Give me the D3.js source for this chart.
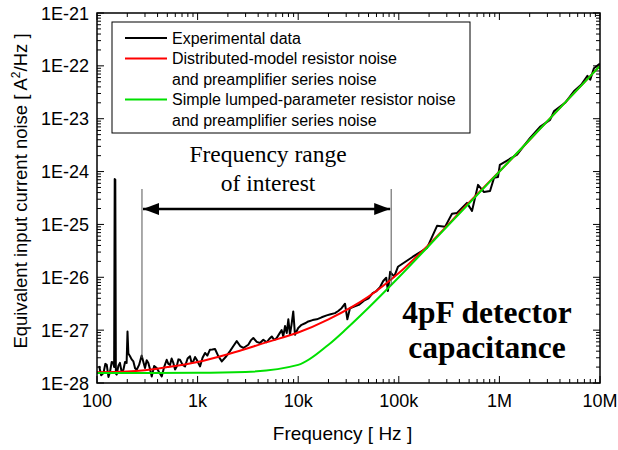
<!DOCTYPE html>
<html>
<head>
<meta charset="utf-8">
<script src="https://cdn.jsdelivr.net/npm/d3@7"></script>
<style>
  body { margin: 0; background: #fff; }
  svg text { font-family: Arial, "Liberation Sans", sans-serif; }
</style>
</head>
<body>
<script>
// experimental noise spectrum (Hz, A^2/Hz)
const expFreq = [105, 110, 116, 121, 125, 130, 135, 140, 145, 148, 150, 152, 154, 157, 163, 169, 176, 183, 190, 197, 201, 205, 213, 221, 230, 239, 248, 262, 278, 289, 300, 312, 324, 337, 350, 370, 392, 415, 440, 465, 493, 512, 532, 552, 574, 597, 620, 644, 668, 710, 750, 795, 840, 873, 906, 943, 980, 1057, 1120, 1186, 1250, 1327, 1400, 1490, 1610, 1740, 1900, 2100, 2270, 2450, 2650, 2850, 3190, 3380, 3580, 3870, 4170, 4500, 4860, 5150, 5460, 5780, 6110, 6480, 6850, 7110, 7400, 7690, 7980, 8280, 8600, 8930, 9290, 10000, 10800, 11700, 12600, 13900, 15300, 17100, 19200, 21000, 23200, 25000, 27000, 29200, 30800, 32700, 36000, 40000, 45000, 50000, 55000, 60000, 65000, 70000, 75000, 78000, 82000, 90000, 98000, 138000, 191000, 240000, 288000, 338000, 379000, 476000, 534000, 613000, 703000, 807000, 884000, 968000, 1010000, 1330000, 1500000, 2010000, 2530000, 3190000, 3500000, 4500000, 5500000, 6500000, 7500000, 8000000, 8700000, 10000000];
const expNoise = [2.1e-28, 1.4e-28, 1.55e-28, 2.3e-28, 2.2e-28, 1.3e-28, 1.66e-28, 2.5e-28, 2.4e-28, 2.0e-28, 7.2e-25, 7.0e-25, 1.5e-28, 1.44e-28, 2.1e-28, 2.4e-28, 1.6e-28, 1.78e-28, 2.5e-28, 2.4e-28, 9.4e-28, 3.6e-28, 3.2e-28, 2.8e-28, 2.56e-28, 1.9e-28, 1.78e-28, 2.2e-28, 3.3e-28, 2.5e-28, 1.92e-28, 2.7e-28, 2.4e-28, 1.8e-28, 1.33e-28, 2.1e-28, 1.92e-28, 1.6e-28, 1.33e-28, 2.0e-28, 2.75e-28, 2.3e-28, 2.2e-28, 2.9e-28, 2.4e-28, 1.8e-28, 2.06e-28, 2.8e-28, 2.75e-28, 2.2e-28, 2.06e-28, 2.9e-28, 3.2e-28, 2.4e-28, 2.56e-28, 3.1e-28, 2.75e-28, 2.06e-28, 3.0e-28, 3.7e-28, 3.3e-28, 4.27e-28, 4.3e-28, 4.4e-28, 3.2e-28, 2.56e-28, 3.1e-28, 4.0e-28, 5.0e-28, 6.2e-28, 5.0e-28, 4.6e-28, 5.3e-28, 6.4e-28, 7.1e-28, 6.0e-28, 5.7e-28, 6.6e-28, 5.9e-28, 6.8e-28, 7.6e-28, 6.5e-28, 7.1e-28, 8.5e-28, 1.0e-27, 7.6e-28, 1.2e-27, 8.8e-28, 1.6e-27, 8.2e-28, 1.3e-27, 2.26e-27, 8.2e-28, 1.1e-27, 1.26e-27, 1.35e-27, 1.46e-27, 1.55e-27, 1.6e-27, 1.75e-27, 1.9e-27, 2.0e-27, 2.1e-27, 2.3e-27, 2.6e-27, 3.16e-27, 1.6e-27, 2.6e-27, 2.8e-27, 3.0e-27, 3.6e-27, 4.0e-27, 5.0e-27, 5.5e-27, 6.5e-27, 8.5e-27, 9.8e-27, 5.5e-27, 1.27e-26, 1.03e-26, 1.58e-26, 2.45e-26, 3.6e-26, 9.4e-26, 9.0e-26, 1.59e-25, 1.65e-25, 2.56e-25, 1.8e-25, 5.6e-25, 4.1e-25, 4.3e-25, 7.6e-25, 7.9e-25, 1.34e-24, 1.83e-24, 2.1e-24, 4.3e-24, 7.0e-24, 9.5e-24, 1.4e-23, 2.0e-23, 3.3e-23, 4.4e-23, 6.5e-23, 5.5e-23, 9.0e-23, 1.1e-22];

// distributed-model resistor noise + preamp series noise
const distFreq = [100, 200, 300, 500, 1000, 2000, 5000, 10000, 20000, 50000, 100000, 200000, 500000, 1000000, 3000000, 10000000];
const distNoise = [1.6e-28, 1.65e-28, 1.75e-28, 2.0e-28, 2.5e-28, 3.5e-28, 6.0e-28, 9.0e-28, 1.6e-27, 4.3e-27, 1.2e-26, 4.2e-26, 2.6e-25, 1.0e-24, 9.0e-24, 1.0e-22];

// simple lumped-parameter resistor noise + preamp series noise
const lumpFreq = [100, 1000, 3000, 10000, 20000, 30000, 50000, 100000, 300000, 1000000, 3000000, 10000000];
const lumpNoise = [1.55e-28, 1.56e-28, 1.62e-28, 2.2e-28, 5.3e-28, 1.05e-27, 2.65e-27, 1.0e-26, 9.0e-26, 1.0e-24, 9.0e-24, 1.0e-22];

const xTickValues = [1e2, 1e3, 1e4, 1e5, 1e6, 1e7];
const xTickLabels = ["100", "1k", "10k", "100k", "1M", "10M"];
const yTickValues = [1e-21, 1e-22, 1e-23, 1e-24, 1e-25, 1e-26, 1e-27, 1e-28];
const yTickLabels = ["1E-21", "1E-22", "1E-23", "1E-24", "1E-25", "1E-26", "1E-27", "1E-28"];

const rangeLimits = [280, 84000];

const legendLabels = [
  ["Experimental data"],
  ["Distributed-model resistor noise", "and preamplifier series noise"],
  ["Simple lumped-parameter resistor noise", "and preamplifier series noise"]
];
const legendColors = ["#000000", "#ff0000", "#00e000"];

const W = 618, H = 450;
const pLeft = 97, pRight = 600, pTop = 13, pBottom = 383;

const svg = d3.select("body")
  .append("svg")
  .attr("width", W)
  .attr("height", H);

const x = d3.scaleLog().domain([1e2, 1e7]).range([pLeft, pRight]);
const y = d3.scaleLog().domain([1e-28, 1e-21]).range([pBottom, pTop]);

// ticks, inside, all four sides
const xMinor = x.ticks().filter(v => !xTickValues.includes(v));
const yMinor = y.ticks().filter(v => !yTickValues.some(t => Math.abs(t - v) / t < 1e-6));

const ticks = svg.append("g").attr("stroke", "#000").attr("stroke-width", 1);
xMinor.forEach(v => {
  ticks.append("line").attr("x1", x(v)).attr("x2", x(v)).attr("y1", pBottom).attr("y2", pBottom - 4);
  ticks.append("line").attr("x1", x(v)).attr("x2", x(v)).attr("y1", pTop).attr("y2", pTop + 4);
});
xTickValues.forEach(v => {
  ticks.append("line").attr("x1", x(v)).attr("x2", x(v)).attr("y1", pBottom).attr("y2", pBottom - 7);
  ticks.append("line").attr("x1", x(v)).attr("x2", x(v)).attr("y1", pTop).attr("y2", pTop + 7);
});
yMinor.forEach(v => {
  ticks.append("line").attr("x1", pLeft).attr("x2", pLeft + 4).attr("y1", y(v)).attr("y2", y(v));
  ticks.append("line").attr("x1", pRight).attr("x2", pRight - 4).attr("y1", y(v)).attr("y2", y(v));
});
yTickValues.forEach(v => {
  ticks.append("line").attr("x1", pLeft).attr("x2", pLeft + 7).attr("y1", y(v)).attr("y2", y(v));
  ticks.append("line").attr("x1", pRight).attr("x2", pRight - 7).attr("y1", y(v)).attr("y2", y(v));
});

// tick labels
svg.selectAll(".xlab")
  .data(xTickValues)
  .enter()
  .append("text")
  .attr("x", d => x(d))
  .attr("y", pBottom + 24)
  .attr("text-anchor", "middle")
  .attr("font-size", "18px")
  .text((d, i) => xTickLabels[i]);

svg.selectAll(".ylab")
  .data(yTickValues)
  .enter()
  .append("text")
  .attr("x", pLeft - 8)
  .attr("y", d => y(d) + 6.5)
  .attr("text-anchor", "end")
  .attr("font-size", "18px")
  .text((d, i) => yTickLabels[i]);

// axis titles
svg.append("text")
  .attr("x", (pLeft + pRight) / 2 - 6)
  .attr("y", 440)
  .attr("text-anchor", "middle")
  .attr("font-size", "19px")
  .text("Frequency [ Hz ]");

const yt = svg.append("text")
  .attr("transform", "translate(27," + 191 + ") rotate(-90)")
  .attr("text-anchor", "middle")
  .attr("font-size", "18.5px");
yt.append("tspan").text("Equivalent input current noise [ A");
yt.append("tspan").attr("dy", -7).attr("font-size", "12px").text("2");
yt.append("tspan").attr("dy", 7).text("/Hz ]");

// clip for curves
svg.append("clipPath").attr("id", "plotclip")
  .append("rect").attr("x", pLeft).attr("y", pTop).attr("width", pRight - pLeft).attr("height", pBottom - pTop);

const line = d3.line()
  .x(d => x(d[0]))
  .y(d => y(d[1]));

const smooth = d3.line()
  .x(d => x(d[0]))
  .y(d => y(d[1]))
  .curve(d3.curveMonotoneX);

const curves = svg.append("g").attr("clip-path", "url(#plotclip)");

curves.append("path")
  .datum(expFreq.map((f, i) => [f, expNoise[i]]))
  .attr("d", line)
  .attr("fill", "none")
  .attr("stroke", "#000")
  .attr("stroke-width", 2)
  .attr("stroke-linejoin", "round");

curves.append("path")
  .datum(distFreq.map((f, i) => [f, distNoise[i]]))
  .attr("d", smooth)
  .attr("fill", "none")
  .attr("stroke", legendColors[1])
  .attr("stroke-width", 2);

curves.append("path")
  .datum(lumpFreq.map((f, i) => [f, lumpNoise[i]]))
  .attr("d", smooth)
  .attr("fill", "none")
  .attr("stroke", legendColors[2])
  .attr("stroke-width", 2);

// frequency range of interest
svg.selectAll(".vline")
  .data(rangeLimits)
  .enter()
  .append("line")
  .attr("x1", d => x(d))
  .attr("x2", d => x(d))
  .attr("y1", 189)
  .attr("y2", (d, i) => i === 0 ? 358 : 285)
  .attr("stroke", "#555")
  .attr("stroke-width", 1);

svg.append("defs").append("marker")
  .attr("id", "arrowhead")
  .attr("viewBox", "0 0 16 12")
  .attr("refX", 16)
  .attr("refY", 6)
  .attr("markerWidth", 16)
  .attr("markerHeight", 12)
  .attr("markerUnits", "userSpaceOnUse")
  .attr("orient", "auto-start-reverse")
  .append("path")
  .attr("d", "M0,0 L16,6 L0,12 Z")
  .attr("fill", "#000");

svg.append("line")
  .attr("x1", x(rangeLimits[0]) + 1)
  .attr("x2", x(rangeLimits[1]) - 1)
  .attr("y1", 209)
  .attr("y2", 209)
  .attr("stroke", "#000")
  .attr("stroke-width", 2.5)
  .attr("marker-start", "url(#arrowhead)")
  .attr("marker-end", "url(#arrowhead)");

["Frequency range", "of interest"].forEach((t, i) => {
  svg.append("text")
    .attr("x", 268)
    .attr("y", 162 + i * 29)
    .attr("text-anchor", "middle")
    .attr("font-size", "23.5px")
    .style("font-family", "'Liberation Serif', 'DejaVu Serif', serif")
    .text(t);
});

// detector label
["4pF detector", "capacitance"].forEach((t, i) => {
  svg.append("text")
    .attr("x", 487)
    .attr("y", 323 + i * 35)
    .attr("text-anchor", "middle")
    .attr("font-size", "31.5px")
    .attr("font-weight", "bold")
    .style("font-family", "'Liberation Serif', 'DejaVu Serif', serif")
    .text(t);
});

// legend
const legend = svg.append("g");
legend.append("rect")
  .attr("x", 112).attr("y", 22)
  .attr("width", 358).attr("height", 111)
  .attr("fill", "#fff")
  .attr("stroke", "#000")
  .attr("stroke-width", 1);

let row = 0;
legendLabels.forEach((lines, i) => {
  const cy = 38 + row * 20.5;
  legend.append("line")
    .attr("x1", 125).attr("x2", 167)
    .attr("y1", cy).attr("y2", cy)
    .attr("stroke", legendColors[i])
    .attr("stroke-width", 2);
  lines.forEach((t, j) => {
    legend.append("text")
      .attr("x", 172)
      .attr("y", cy + 5.5 + j * 20.5)
      .attr("font-size", "16px")
      .text(t);
  });
  row += lines.length;
});

// frame
svg.append("rect")
  .attr("x", pLeft).attr("y", pTop)
  .attr("width", pRight - pLeft).attr("height", pBottom - pTop)
  .attr("fill", "none")
  .attr("stroke", "#000")
  .attr("stroke-width", 1.5);
</script>
</body>
</html>
